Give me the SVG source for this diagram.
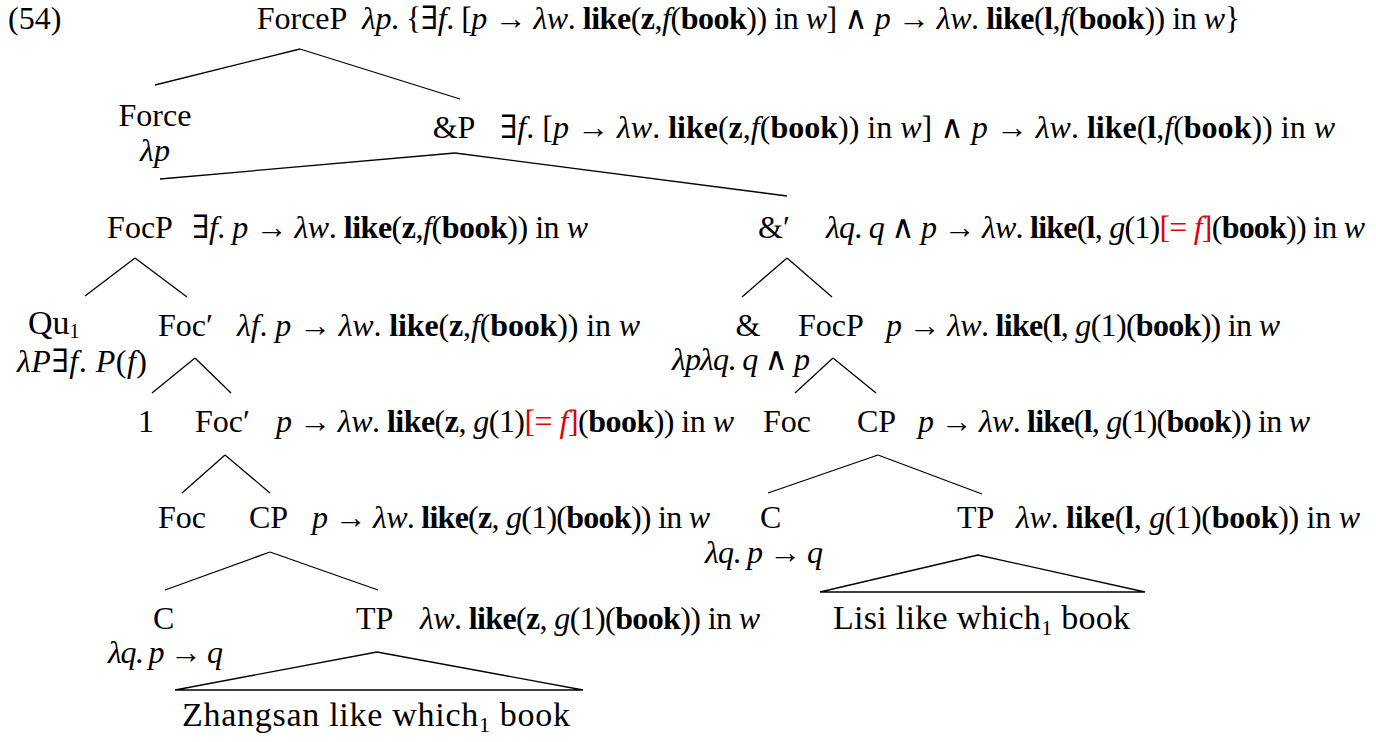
<svg xmlns="http://www.w3.org/2000/svg" width="1376" height="742" viewBox="0 0 1376 742">
<style>
text{font-family:"Liberation Serif","DejaVu Serif",serif;font-size:32px;fill:#000}
.i{font-style:italic}
.b{font-weight:bold}
.r{fill:#e00000}
.m{text-anchor:middle}
.sub{font-size:21px}
.leaf{font-size:34px}
.leaf .sub{font-size:22px}
.qu{font-size:34px}
.qu .sub{font-size:20px}
line,polygon{stroke:#000;stroke-width:1.3;fill:none}
</style>
<rect width="1376" height="742" fill="#fff"/>
<g id="connectors">
<line x1="300" y1="49" x2="155" y2="85"/>
<line x1="300" y1="49" x2="460" y2="99"/>
<line x1="455" y1="153" x2="160" y2="179"/>
<line x1="455" y1="153" x2="787" y2="196"/>
<line x1="135" y1="258" x2="85" y2="296"/>
<line x1="135" y1="258" x2="187" y2="297"/>
<line x1="787" y1="258" x2="742" y2="297"/>
<line x1="787" y1="258" x2="832" y2="297"/>
<line x1="195" y1="358" x2="152" y2="393"/>
<line x1="195" y1="358" x2="231" y2="393"/>
<line x1="833" y1="358" x2="795" y2="393"/>
<line x1="833" y1="358" x2="876" y2="393"/>
<line x1="225" y1="455" x2="182" y2="493"/>
<line x1="225" y1="455" x2="270" y2="493"/>
<line x1="878" y1="455" x2="768" y2="493"/>
<line x1="878" y1="455" x2="982" y2="494"/>
<line x1="270" y1="552" x2="165" y2="590"/>
<line x1="270" y1="552" x2="378" y2="590"/>
<polygon points="377,652 175,690 583,690"/>
<polygon points="978,555 820,592 1145,592"/>
</g>
<text id="exnum" x="8" y="29">(54)</text>
<g id="ForceP">
<text class="m" x="302" y="29">ForceP</text>
<text x="362" y="29" textLength="878" lengthAdjust="spacing"><tspan class="i">λp</tspan>. {∃<tspan class="i">f</tspan>. [<tspan class="i">p</tspan> → <tspan class="i">λw</tspan>. <tspan class="b">like</tspan>(<tspan class="b">z</tspan>,<tspan class="i">f</tspan>(<tspan class="b">book</tspan>)) in <tspan class="i">w</tspan>] ∧ <tspan class="i">p</tspan> → <tspan class="i">λw</tspan>. <tspan class="b">like</tspan>(<tspan class="b">l</tspan>,<tspan class="i">f</tspan>(<tspan class="b">book</tspan>)) in <tspan class="i">w</tspan>}</text>
</g>
<g id="Force">
<text class="m" x="155" y="126">Force</text>
<text class="m i" x="155" y="161">λp</text>
</g>
<g id="AndP">
<text class="m" x="454" y="138">&amp;P</text>
<text x="500" y="138" textLength="835" lengthAdjust="spacing">∃<tspan class="i">f</tspan>. [<tspan class="i">p</tspan> → <tspan class="i">λw</tspan>. <tspan class="b">like</tspan>(<tspan class="b">z</tspan>,<tspan class="i">f</tspan>(<tspan class="b">book</tspan>)) in <tspan class="i">w</tspan>] ∧ <tspan class="i">p</tspan> → <tspan class="i">λw</tspan>. <tspan class="b">like</tspan>(<tspan class="b">l</tspan>,<tspan class="i">f</tspan>(<tspan class="b">book</tspan>)) in <tspan class="i">w</tspan></text>
</g>
<g id="FocP1">
<text class="m" x="140" y="238">FocP</text>
<text x="192" y="238" textLength="396" lengthAdjust="spacing">∃<tspan class="i">f</tspan>. <tspan class="i">p</tspan> → <tspan class="i">λw</tspan>. <tspan class="b">like</tspan>(<tspan class="b">z</tspan>,<tspan class="i">f</tspan>(<tspan class="b">book</tspan>)) in <tspan class="i">w</tspan></text>
</g>
<g id="AndBar">
<text x="758" y="238">&amp;′</text>
<text x="826" y="238" textLength="539" lengthAdjust="spacing"><tspan class="i">λq</tspan>. <tspan class="i">q</tspan> ∧ <tspan class="i">p</tspan> → <tspan class="i">λw</tspan>. <tspan class="b">like</tspan>(<tspan class="b">l</tspan>, <tspan class="i">g</tspan>(1)<tspan class="r">[= <tspan class="i">f</tspan>]</tspan>(<tspan class="b">book</tspan>)) in <tspan class="i">w</tspan></text>
</g>
<g id="Qu">
<text class="qu" x="28" y="334">Qu<tspan class="sub" dy="4">1</tspan></text>
<text x="17" y="372" textLength="130" lengthAdjust="spacing"><tspan class="i">λP</tspan>∃<tspan class="i">f</tspan>. <tspan class="i">P</tspan>(<tspan class="i">f</tspan>)</text>
</g>
<g id="FocBar1">
<text x="158" y="336">Foc′</text>
<text x="237" y="336" textLength="403" lengthAdjust="spacing"><tspan class="i">λf</tspan>. <tspan class="i">p</tspan> → <tspan class="i">λw</tspan>. <tspan class="b">like</tspan>(<tspan class="b">z</tspan>,<tspan class="i">f</tspan>(<tspan class="b">book</tspan>)) in <tspan class="i">w</tspan></text>
</g>
<g id="And">
<text class="m" x="748" y="336">&amp;</text>
<text x="672" y="370" textLength="138" lengthAdjust="spacing"><tspan class="i">λpλq</tspan>. <tspan class="i">q</tspan> ∧ <tspan class="i">p</tspan></text>
</g>
<g id="FocP2">
<text x="798" y="336">FocP</text>
<text x="886" y="336" textLength="394" lengthAdjust="spacing"><tspan class="i">p</tspan> → <tspan class="i">λw</tspan>. <tspan class="b">like</tspan>(<tspan class="b">l</tspan>, <tspan class="i">g</tspan>(1)(<tspan class="b">book</tspan>)) in <tspan class="i">w</tspan></text>
</g>
<g id="One">
<text x="138" y="432">1</text>
</g>
<g id="FocBar2">
<text x="195" y="432">Foc′</text>
<text x="276" y="432" textLength="458" lengthAdjust="spacing"><tspan class="i">p</tspan> → <tspan class="i">λw</tspan>. <tspan class="b">like</tspan>(<tspan class="b">z</tspan>, <tspan class="i">g</tspan>(1)<tspan class="r">[= <tspan class="i">f</tspan>]</tspan>(<tspan class="b">book</tspan>)) in <tspan class="i">w</tspan></text>
</g>
<g id="Foc2">
<text x="763" y="432">Foc</text>
</g>
<g id="CP2">
<text x="857" y="432">CP</text>
<text x="918" y="432" textLength="392" lengthAdjust="spacing"><tspan class="i">p</tspan> → <tspan class="i">λw</tspan>. <tspan class="b">like</tspan>(<tspan class="b">l</tspan>, <tspan class="i">g</tspan>(1)(<tspan class="b">book</tspan>)) in <tspan class="i">w</tspan></text>
</g>
<g id="Foc1">
<text x="158" y="528">Foc</text>
</g>
<g id="CP1">
<text x="249" y="528">CP</text>
<text x="312" y="528" textLength="398" lengthAdjust="spacing"><tspan class="i">p</tspan> → <tspan class="i">λw</tspan>. <tspan class="b">like</tspan>(<tspan class="b">z</tspan>, <tspan class="i">g</tspan>(1)(<tspan class="b">book</tspan>)) in <tspan class="i">w</tspan></text>
</g>
<g id="C2">
<text x="760" y="528">C</text>
<text x="705" y="563" textLength="118" lengthAdjust="spacing"><tspan class="i">λq</tspan>. <tspan class="i">p</tspan> → <tspan class="i">q</tspan></text>
</g>
<g id="TP2">
<text x="957" y="528">TP</text>
<text x="1016" y="528" textLength="344" lengthAdjust="spacing"><tspan class="i">λw</tspan>. <tspan class="b">like</tspan>(<tspan class="b">l</tspan>, <tspan class="i">g</tspan>(1)(<tspan class="b">book</tspan>)) in <tspan class="i">w</tspan></text>
<text class="leaf" x="833" y="629" textLength="297" lengthAdjust="spacing">Lisi like which<tspan class="sub" dy="6">1</tspan><tspan dy="-6"> book</tspan></text>
</g>
<g id="C1">
<text x="153" y="629">C</text>
<text x="108" y="663" textLength="115" lengthAdjust="spacing"><tspan class="i">λq</tspan>. <tspan class="i">p</tspan> → <tspan class="i">q</tspan></text>
</g>
<g id="TP1">
<text x="356" y="629">TP</text>
<text x="420" y="629" textLength="340" lengthAdjust="spacing"><tspan class="i">λw</tspan>. <tspan class="b">like</tspan>(<tspan class="b">z</tspan>, <tspan class="i">g</tspan>(1)(<tspan class="b">book</tspan>)) in <tspan class="i">w</tspan></text>
<text class="leaf" x="182" y="726" textLength="388" lengthAdjust="spacing">Zhangsan like which<tspan class="sub" dy="6">1</tspan><tspan dy="-6"> book</tspan></text>
</g>
</svg>
